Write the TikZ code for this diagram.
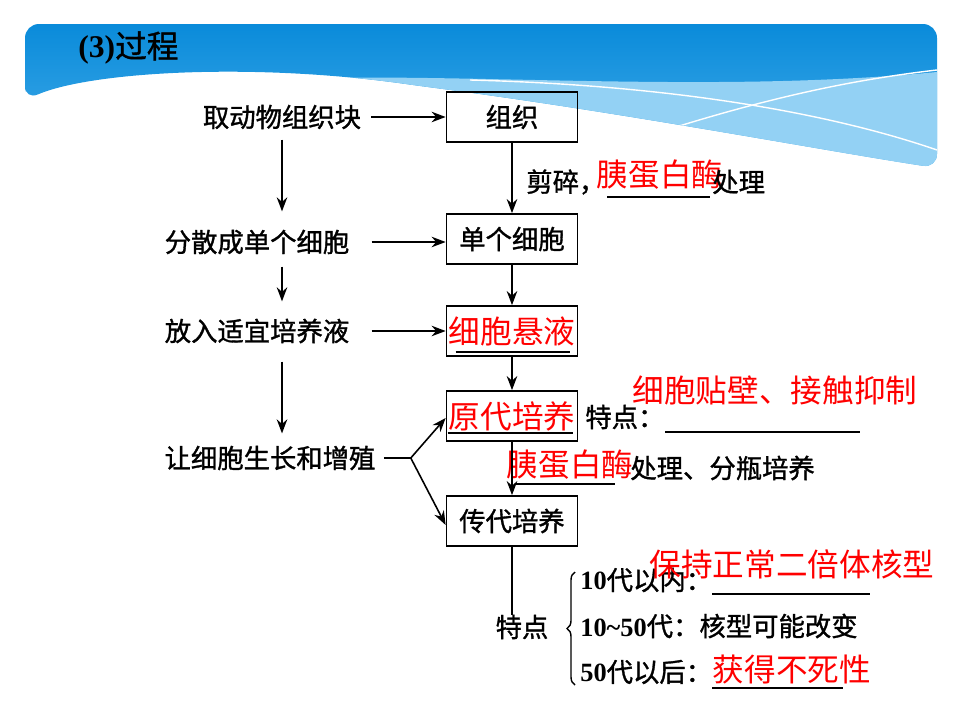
\documentclass[tikz,border=0pt]{standalone}
\usepackage{fontspec}
\setmainfont{Liberation Serif}
\newfontfamily\cjk{Noto Sans CJK SC}
\newfontfamily\cjkb{Noto Sans CJK SC}[FakeBold=1.2]
\usetikzlibrary{arrows.meta, positioning, calc, decorations.pathreplacing}
\definecolor{bluetop}{HTML}{0A8BDA}
\definecolor{bluemid}{HTML}{47AEEA}
\definecolor{bluelight}{HTML}{93D1F4}
\definecolor{ansred}{HTML}{FF0000}
\tikzstyle{stepbox} = [rectangle, draw=black, line width=1pt, minimum width=2.62cm,
                       minimum height=1cm, inner sep=0pt, font=\cjkb\fontsize{15}{18}\selectfont]
\tikzstyle{txt}     = [inner sep=0pt, font=\cjkb\fontsize{15}{18}\selectfont]
\tikzstyle{ans}     = [inner sep=0pt, text=ansred, font=\cjk\fontsize{18}{21}\selectfont]
\tikzstyle{arrow}   = [line width=0.9pt, -{Stealth[length=8pt, width=6pt]}]
\tikzstyle{blank}   = [line width=0.8pt]
\newcommand{\num}[1]{{\rmfamily\bfseries #1}}

\begin{document}
\begin{tikzpicture}[x=0.02cm, y=-0.02cm]
  \useasboundingbox (0,0) rectangle (960,720);

  % --- header band ---
  \begin{scope}
    \clip[rounded corners=0.28cm] (25,100) -- (25,24) -- (937,24) -- (937,168)
         .. controls (820,150) and (620,112) .. (420,86)
         .. controls (250,62) and (90,72) .. (25,100) -- cycle;
    \shade[top color=bluetop, bottom color=bluemid] (25,24) rectangle (937,172);
    \fill[bluelight] (250,80) .. controls (450,70) and (700,95) .. (937,72)
                     -- (937,180) -- (250,180) -- cycle;
    \draw[white, line width=0.8pt] (470,80) .. controls (700,86) and (850,120) .. (937,150);
    \draw[white, line width=0.8pt] (600,152) .. controls (750,100) and (850,80) .. (937,70);
  \end{scope}
  \node (title) [inner sep=0pt, anchor=west] at (78,48)
        {\fontsize{18}{21}\selectfont\num{(3)}\cjkb 过程};

  % --- left column ---
  \node (qu)   [txt] at (282,117) {取动物组织块};
  \node (fen)  [txt] at (257,242) {分散成单个细胞};
  \node (fang) [txt] at (257,331) {放入适宜培养液};
  \node (rang) [txt] at (270,458) {让细胞生长和增殖};

  % --- boxes ---
  \node (zuzhi) [stepbox] at (512,117) {组织};
  \node (dan)   [stepbox] at (512,239) {单个细胞};
  \node (xuan)  [stepbox] at (512,331) {};
  \node (yuan)  [stepbox] at (512,416) {};
  \node (chuan) [stepbox] at (512,521) {传代培养};
  \node (xuant) [ans] at (xuan) {细胞悬液};
  \node (yuant) [ans] at (yuan) {原代培养};
  \draw[blank] ($(xuan.south west)+(10,-5)$) -- ($(xuan.south east)+(-8,-5)$);
  \draw[blank] ($(yuan.south west)+(2,-9)$) -- ($(yuan.south east)+(-5,-9)$);

  % --- notes ---
  \node (jian)  [txt, anchor=west] at (526,182) {剪碎，};
  \node (yi1)   [ans] at (660,175) {胰蛋白酶};
  \node (chu1)  [txt, anchor=west] at (712,182) {处理};
  \draw[blank] (607,197) -- (710,197);

  \node (td1)   [txt, anchor=west] at (585,417) {特点：};
  \node (tie)   [ans] at (775,390) {细胞贴壁、接触抑制};
  \draw[blank] (665,432) -- (860,432);

  \node (yi2)   [ans] at (570,465) {胰蛋白酶};
  \node (chu2)  [txt, anchor=west] at (630,468) {处理、分瓶培养};
  \draw[blank] (515,484) -- (615,484);

  \node (td2)   [txt] at (522,627) {特点};
  \node (g10)   [txt, anchor=west] at (580,580) {\num{10}代以内：};
  \node (g50)   [txt, anchor=west] at (580,626) {\num{10\textasciitilde 50}代：核型可能改变};
  \node (gaft)  [txt, anchor=west] at (580,672) {\num{50}代以后：};
  \node (baochi)[ans] at (792,564) {保持正常二倍体核型};
  \node (busi)  [ans] at (792,670) {获得不死性};
  \draw[blank] (712,594) -- (870,594);
  \draw[blank] (712,688) -- (843,688);
  \draw[line width=0.8pt, decorate, decoration={brace, amplitude=0.16cm}] (575,685) -- (575,572);

  % Arrows
  \draw[arrow, shorten <=0.2cm, shorten >=0.36cm] (qu) -- (fen.north -| qu);
  \draw[arrow, shorten <=0.24cm, shorten >=0.34cm] (fen.south -| qu) -- (fang.north -| qu);
  \draw[arrow, shorten <=0.36cm, shorten >=0.24cm] (fang.south -| qu) -- (rang.north -| qu);
  \draw[arrow, shorten <=0.2cm] (qu) -- (zuzhi);
  \draw[arrow, shorten <=0.44cm] (fen.east) -- (fen.east -| dan.west);
  \draw[arrow, shorten <=0.44cm] (fang.east) -- (fang.east -| xuan.west);
  \coordinate (fork) at ($(rang.east)+(35,0)$);
  \draw[line width=0.9pt, shorten <=0.16cm] (rang.east) -- (fork);
  \draw[arrow] (fork) -- ($(yuan.west)+(0,2)$);
  \draw[arrow] (fork) -- ($(chuan.west)+(0,4)$);
  \draw[arrow] (zuzhi) -- (dan);
  \draw[arrow] (dan) -- (xuan);
  \draw[arrow] (xuan) -- (yuan);
  \draw[arrow] (yuan) -- (chuan);
  \draw[line width=0.9pt] (chuan) -- (td2.north -| chuan);

\end{tikzpicture}
\end{document}
